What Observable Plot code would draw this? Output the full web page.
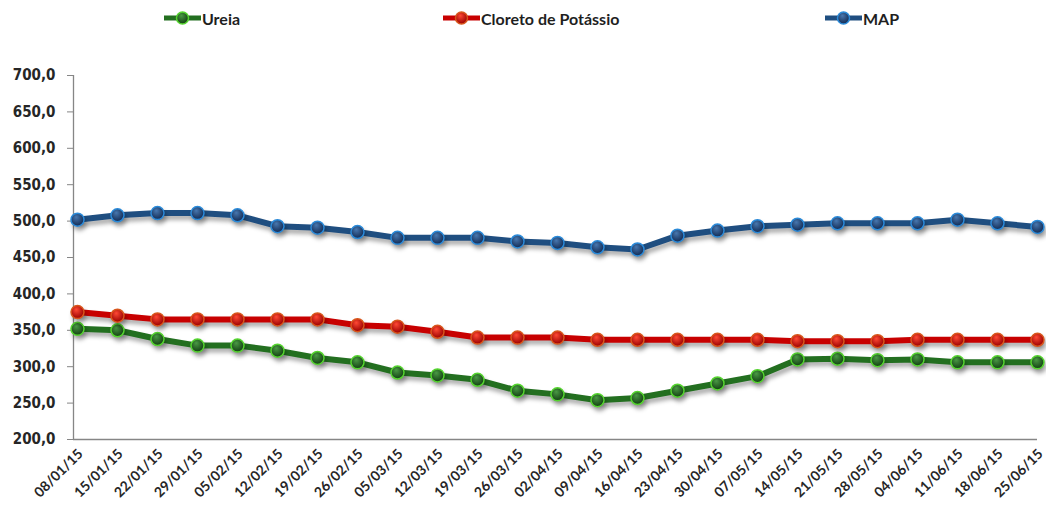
<!DOCTYPE html>
<html>
<head>
<meta charset="utf-8">
<script src="https://cdn.jsdelivr.net/npm/d3@7"></script>
<script src="https://cdn.jsdelivr.net/npm/@observablehq/plot@0.6"></script>
<style>
  html, body { margin: 0; padding: 0; background: #fff; }
  #wrap { width: 1046px; height: 507px; position: relative; overflow: hidden; }
  #legend { position: relative; width: 1046px; height: 35px; }
  .item { position: absolute; top: 8px; height: 20px; display: flex; align-items: center;
          font: bold 16px Lato, "Open Sans", sans-serif; color: #1f1f1f; }
  .item svg { margin-right: 1px; }
  g[aria-label="line"], g[aria-label="dot"] { filter: drop-shadow(2px 4px 2px rgba(0,0,0,0.32)); }
  g[aria-label="y-axis tick label"] text { font: bold 15px "DejaVu Sans Condensed", "DejaVu Sans", sans-serif; fill: #262626; }
  g[aria-label="x-axis tick label"] text { font: bold 14px Lato, "Open Sans", sans-serif; fill: #262626; }
</style>
</head>
<body>
<div id="wrap">
  <div id="legend"></div>
  <div id="chart"></div>
</div>
<script>
const dates = ["08/01/15","15/01/15","22/01/15","29/01/15","05/02/15","12/02/15","19/02/15","26/02/15",
  "05/03/15","12/03/15","19/03/15","26/03/15","02/04/15","09/04/15","16/04/15","23/04/15","30/04/15",
  "07/05/15","14/05/15","21/05/15","28/05/15","04/06/15","11/06/15","18/06/15","25/06/15"];
const seriesNames = ["Ureia", "Cloreto de Potássio", "MAP"];
const ureia   = [352, 350, 338, 329, 329, 322, 312, 306, 292, 288, 282, 267, 262, 254, 257, 267, 277, 287, 310, 311, 309, 310, 306, 306, 306];
const cloreto = [375, 370, 365, 365, 365, 365, 365, 357, 355, 348, 340, 340, 340, 337, 337, 337, 337, 337, 335, 335, 335, 337, 337, 337, 337];
const map     = [502, 508, 511, 511, 508, 493, 491, 485, 477, 477, 477, 472, 470, 464, 461, 480, 487, 493, 495, 497, 497, 497, 502, 497, 492];
const yTicks = [200, 250, 300, 350, 400, 450, 500, 550, 600, 650, 700];

const lineColors = ["#236f20", "#c80000", "#1f4e80"];
const rimColors  = ["#55d42f", "#d8561c", "#2b8ad8"];
const gradStops  = [["#4a9a44", "#123f12"], ["#ff4a35", "#9a0000"], ["#4878b0", "#122a52"]];

const valuesBySeries = [ureia, cloreto, map];
const data = seriesNames.flatMap((s, k) => valuesBySeries[k].map((v, i) => ({date: dates[i], value: v, series: s})));

// Legend
const legend = document.getElementById("legend");
const legendLeft = [164, 443, 825];
seriesNames.forEach((name, k) => {
  const div = document.createElement("div");
  div.className = "item";
  div.style.left = legendLeft[k] + "px";
  div.innerHTML = `<svg width="37" height="20" viewBox="0 0 37 20">
     <defs><radialGradient id="lg${k}" cx="45%" cy="40%" r="60%" fx="40%" fy="30%">
       <stop offset="0" stop-color="${gradStops[k][0]}"/><stop offset="1" stop-color="${gradStops[k][1]}"/></radialGradient></defs>
     <line x1="0" x2="37" y1="10" y2="10" stroke="${lineColors[k]}" stroke-width="5"/>
     <circle cx="18.5" cy="10" r="6" fill="url(#lg${k})" stroke="${rimColors[k]}" stroke-width="1.5"/></svg><span>${name}</span>`;
  legend.appendChild(div);
});

const fmt = d => d.toFixed(1).replace(".", ",");

const chart = Plot.plot({
  width: 1046,
  height: 472,
  marginLeft: 77,
  marginRight: 9,
  marginTop: 40,
  marginBottom: 68,
  style: {background: "#fff", color: "#262626", overflow: "visible"},
  x: {type: "point", domain: dates, padding: 0, label: null},
  y: {domain: [200, 700], label: null},
  marks: [
    Plot.ruleX([dates[0]], {dx: -4, stroke: "#868686", strokeWidth: 1.3}),
    Plot.ruleY([200], {insetLeft: -4, stroke: "#868686", strokeWidth: 1.3}),
    Plot.axisY({ticks: yTicks, tickSize: 6, tickPadding: 12, dx: -4, tickFormat: fmt, stroke: "#868686", fontSize: 15, fontWeight: "bold", label: null}),
    Plot.axisX({tickSize: 0, tickRotate: -45, tickPadding: 12, dx: 3, fontSize: 14, fontWeight: "bold", label: null}),
    ...seriesNames.map((s, k) => Plot.line(data.filter(d => d.series === s), {
      x: "date", y: "value", stroke: lineColors[k], strokeWidth: 6, strokeLinejoin: "round", strokeLinecap: "round"
    })),
    ...seriesNames.map((s, k) => Plot.dot(data.filter(d => d.series === s), {
      x: "date", y: "value", r: 6.5, fill: `url(#pg${k})`, stroke: rimColors[k], strokeWidth: 1.5
    }))
  ]
});

// gradient definitions for the markers
const ns = "http://www.w3.org/2000/svg";
const defs = document.createElementNS(ns, "defs");
gradStops.forEach((st, k) => {
  const g = document.createElementNS(ns, "radialGradient");
  g.setAttribute("id", "pg" + k);
  g.setAttribute("cx", "45%"); g.setAttribute("cy", "40%"); g.setAttribute("r", "60%");
  g.setAttribute("fx", "40%"); g.setAttribute("fy", "30%");
  [[0, st[0]], [1, st[1]]].forEach(([o, c]) => {
    const s = document.createElementNS(ns, "stop");
    s.setAttribute("offset", o); s.setAttribute("stop-color", c);
    g.appendChild(s);
  });
  defs.appendChild(g);
});
chart.insertBefore(defs, chart.firstChild);
document.getElementById("chart").appendChild(chart);
</script>
</body>
</html>
